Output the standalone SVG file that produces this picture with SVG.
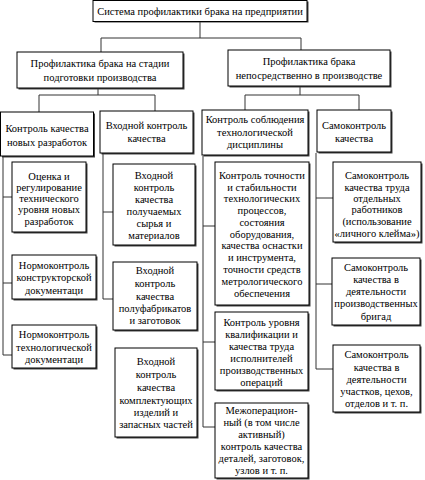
<svg xmlns="http://www.w3.org/2000/svg" width="425" height="480" viewBox="0 0 425 480">
<style>
.bx{fill:#fff;stroke:#000;stroke-width:1}
.sh{fill:#444}
.ln{fill:none;stroke:#333;stroke-width:1}
text{font-family:"Liberation Serif","Times New Roman",serif;font-size:10.5px;fill:#000;text-anchor:middle}
</style>
<rect width="425" height="480" fill="#fff"/>
<g id="connectors" class="ln">
<path d="M200,22V38M101,38H301M101,38V52M301,38V50"/>
<path d="M98,88V95M39,95H155M39,95V112M155,95V111"/>
<path d="M300,86V95M245,95H359M245,95V110M359,95V110"/>
<path d="M3,156V355M3,197H12M3,283H12M3,355H12"/>
<path d="M103,153V299M103,212H113M103,299H113"/>
<path d="M203,156V427M203,226H215M203,342H215M203,427H215"/>
<path d="M316,153V369M316,198H333M316,284H332M316,369H333"/>
</g>
<g id="n0"><rect class="sh" x="94.5" y="1.5" width="214" height="21"/><rect class="bx" x="93" y="0.5" width="214" height="21"/><text x="200" y="15">Система профилактики брака на предприятии</text></g>
<g id="n1"><rect class="sh" x="18.5" y="53.5" width="166" height="36"/><rect class="bx" x="17" y="52" width="166" height="36"/><text x="100" y="67">Профилактика брака на стадии</text><text x="100" y="81">подготовки производства</text></g>
<g id="n2"><rect class="sh" x="229.5" y="51.5" width="162" height="36"/><rect class="bx" x="228" y="50" width="162" height="36"/><text x="309" y="65">Профилактика брака</text><text x="309" y="79">непосредственно в производстве</text></g>
<g id="n3"><rect class="sh" x="2" y="113.5" width="93" height="44"/><rect class="bx" x="0.5" y="112" width="93" height="44"/><text x="47" y="132">Контроль качества</text><text x="47" y="146">новых разработок</text></g>
<g id="n4"><rect class="sh" x="101.5" y="112.5" width="93" height="42"/><rect class="bx" x="100" y="111" width="93" height="42"/><text x="146.5" y="129">Входной контроль</text><text x="146.5" y="142">качества</text></g>
<g id="n5"><rect class="sh" x="203.5" y="111.5" width="106" height="45"/><rect class="bx" x="202" y="110" width="106" height="45"/><text x="255" y="123">Контроль соблюдения</text><text x="255" y="136">технологической</text><text x="255" y="148">дисциплины</text></g>
<g id="n6"><rect class="sh" x="318.5" y="111.5" width="74" height="42"/><rect class="bx" x="317" y="110" width="74" height="42"/><text x="354" y="129">Самоконтроль</text><text x="354" y="142">качества</text></g>
<g id="n7"><rect class="sh" x="13.5" y="163.5" width="74" height="70"/><rect class="bx" x="12" y="162" width="74" height="70"/><text x="49" y="180">Оценка и</text><text x="49" y="191">регулирование</text><text x="49" y="202">технического</text><text x="49" y="213">уровня новых</text><text x="49" y="225">разработок</text></g>
<g id="n8"><rect class="sh" x="13.5" y="256.5" width="84" height="44"/><rect class="bx" x="12" y="255" width="84" height="44"/><text x="54" y="269">Нормоконтроль</text><text x="54" y="281">конструкторской</text><text x="54" y="294">документаци</text></g>
<g id="n9"><rect class="sh" x="13.5" y="326.5" width="84" height="43"/><rect class="bx" x="12" y="325" width="84" height="43"/><text x="54" y="338">Нормоконтроль</text><text x="54" y="351">технологической</text><text x="54" y="363">документаци</text></g>
<g id="n10"><rect class="sh" x="114.5" y="165.5" width="82" height="81"/><rect class="bx" x="113" y="164" width="82" height="81"/><text x="154" y="179">Входной</text><text x="154" y="191">контроль</text><text x="154" y="203">качества</text><text x="154" y="215">получаемых</text><text x="154" y="227">сырья и</text><text x="154" y="239">материалов</text></g>
<g id="n11"><rect class="sh" x="114.5" y="263.5" width="84" height="68"/><rect class="bx" x="113" y="262" width="84" height="68"/><text x="155" y="274">Входной</text><text x="155" y="287">контроль</text><text x="155" y="300">качества</text><text x="155" y="312">полуфабрикатов</text><text x="155" y="324">и заготовок</text></g>
<g id="n12"><rect class="sh" x="116.5" y="349.5" width="82" height="89"/><rect class="bx" x="115" y="348" width="82" height="89"/><text x="156" y="365">Входной</text><text x="156" y="378">контроль</text><text x="156" y="391">качества</text><text x="156" y="404">комплектующих</text><text x="156" y="416">изделий и</text><text x="156" y="428">запасных частей</text></g>
<g id="n13"><rect class="sh" x="216.5" y="163.5" width="94" height="143"/><rect class="bx" x="215" y="162" width="94" height="143"/><text x="262" y="179">Контроль точности</text><text x="262" y="191">и стабильности</text><text x="262" y="202">технологических</text><text x="262" y="214">процессов,</text><text x="262" y="226">состояния</text><text x="262" y="238">оборудования,</text><text x="262" y="249">качества оснастки</text><text x="262" y="261">и инструмента,</text><text x="262" y="273">точности средств</text><text x="262" y="285">метрологического</text><text x="262" y="297">обеспечения</text></g>
<g id="n14"><rect class="sh" x="216.5" y="313.5" width="93" height="78"/><rect class="bx" x="215" y="312" width="93" height="78"/><text x="261.5" y="326">Контроль уровня</text><text x="261.5" y="338">квалификации и</text><text x="261.5" y="350">качества труда</text><text x="261.5" y="362">исполнителей</text><text x="261.5" y="374">производственных</text><text x="261.5" y="386">операций</text></g>
<g id="n15"><rect class="sh" x="216.5" y="404.5" width="93" height="75"/><rect class="bx" x="215" y="403" width="93" height="75"/><text x="261.5" y="414">Межоперацион-</text><text x="261.5" y="426">ный (в том числе</text><text x="261.5" y="438">активный)</text><text x="261.5" y="450">контроль качества</text><text x="261.5" y="462">деталей, заготовок,</text><text x="261.5" y="474">узлов и т. п.</text></g>
<g id="n16"><rect class="sh" x="334.5" y="163.5" width="88" height="80"/><rect class="bx" x="333" y="162" width="88" height="80"/><text x="377" y="179">Самоконтроль</text><text x="377" y="191">качества труда</text><text x="377" y="202">отдельных</text><text x="377" y="213">работников</text><text x="377" y="225">(использование</text><text x="377" y="237">«личного клейма»)</text></g>
<g id="n17"><rect class="sh" x="333.5" y="259.5" width="88" height="67"/><rect class="bx" x="332" y="258" width="88" height="67"/><text x="376" y="271">Самоконтроль</text><text x="376" y="283">качества в</text><text x="376" y="295">деятельности</text><text x="376" y="307">производственных</text><text x="376" y="320">бригад</text></g>
<g id="n18"><rect class="sh" x="334.5" y="346.5" width="87" height="67"/><rect class="bx" x="333" y="345" width="87" height="67"/><text x="376.5" y="358">Самоконтроль</text><text x="376.5" y="371">качества в</text><text x="376.5" y="383">деятельности</text><text x="376.5" y="395">участков, цехов,</text><text x="376.5" y="407">отделов и т. п.</text></g>
</svg>
